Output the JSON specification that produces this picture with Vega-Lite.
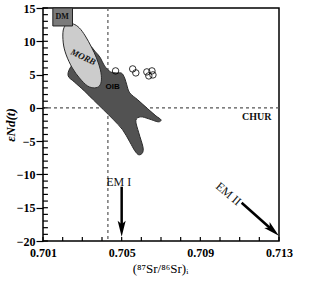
{
  "$schema": "https://vega.github.io/schema/vega-lite/v6.json",
  "width": 236,
  "height": 233,
  "autosize": {"type": "none"},
  "padding": {"left": 43, "top": 8, "right": 41, "bottom": 45},
  "background": "white",
  "config": {
    "view": {"stroke": "black", "strokeWidth": 1.5},
    "font": "Liberation Serif",
    "axis": {"labelOverlap": false, "labelFlush": false, "grid": false, "domain": false,
             "labelFont": "Liberation Serif", "labelFontSize": 12, "labelFontWeight": "bold", "labelColor": "black",
             "titleFont": "Liberation Serif", "titleColor": "black", "titleFontSize": 13},
    "axisX": {"ticks": false, "labelPadding": 6, "titleFontWeight": "normal",
              "titleX": 117, "titleY": 27, "titleBaseline": "middle", "titleAlign": "center"},
    "axisY": {"tickSize": 7, "tickColor": "black", "tickWidth": 1.2, "labelPadding": 1,
              "titleFontWeight": "bold", "titleFontStyle": "italic",
              "titleX": -33, "titleY": 116.5, "titleBaseline": "middle", "titleAlign": "center", "titleAngle": -90}
  },
  "datasets": {
    "oib": [
      {"i": 1, "x": 0.70331, "y": 9.3},
      {"i": 2, "x": 0.70367, "y": 8.4},
      {"i": 3, "x": 0.70392, "y": 7.5},
      {"i": 4, "x": 0.70413, "y": 6.3},
      {"i": 5, "x": 0.70444, "y": 5.4},
      {"i": 6, "x": 0.70474, "y": 5.25},
      {"i": 7, "x": 0.705, "y": 5.2},
      {"i": 8, "x": 0.70515, "y": 4.5},
      {"i": 9, "x": 0.70526, "y": 3.45},
      {"i": 10, "x": 0.70541, "y": 2.25},
      {"i": 11, "x": 0.70582, "y": 1.2},
      {"i": 12, "x": 0.70633, "y": -0.15},
      {"i": 13, "x": 0.70674, "y": -1.2},
      {"i": 14, "x": 0.707, "y": -1.8},
      {"i": 15, "x": 0.70685, "y": -2.1},
      {"i": 16, "x": 0.70638, "y": -1.65},
      {"i": 17, "x": 0.70597, "y": -1.35},
      {"i": 18, "x": 0.70572, "y": -1.9},
      {"i": 19, "x": 0.70587, "y": -3.75},
      {"i": 20, "x": 0.70608, "y": -5.85},
      {"i": 21, "x": 0.70606, "y": -6.75},
      {"i": 22, "x": 0.70587, "y": -7.05},
      {"i": 23, "x": 0.70567, "y": -6.45},
      {"i": 24, "x": 0.70541, "y": -5.1},
      {"i": 25, "x": 0.70505, "y": -3.3},
      {"i": 26, "x": 0.70459, "y": -1.8},
      {"i": 27, "x": 0.70408, "y": -0.3},
      {"i": 28, "x": 0.70356, "y": 1.2},
      {"i": 29, "x": 0.7031, "y": 2.55},
      {"i": 30, "x": 0.70259, "y": 3.9},
      {"i": 31, "x": 0.70228, "y": 4.8},
      {"i": 32, "x": 0.70238, "y": 6.0},
      {"i": 33, "x": 0.70279, "y": 7.5}
    ],
    "morb": [
      {"i": 1, "x": 0.70203, "y": 11.7},
      {"i": 2, "x": 0.70223, "y": 12.6},
      {"i": 3, "x": 0.70254, "y": 12.6},
      {"i": 4, "x": 0.70285, "y": 12.0},
      {"i": 5, "x": 0.70315, "y": 10.8},
      {"i": 6, "x": 0.70346, "y": 9.15},
      {"i": 7, "x": 0.70372, "y": 7.5},
      {"i": 8, "x": 0.70392, "y": 5.7},
      {"i": 9, "x": 0.70397, "y": 4.2},
      {"i": 10, "x": 0.70387, "y": 3.3},
      {"i": 11, "x": 0.70362, "y": 3.0},
      {"i": 12, "x": 0.70326, "y": 3.3},
      {"i": 13, "x": 0.70285, "y": 4.5},
      {"i": 14, "x": 0.70249, "y": 6.0},
      {"i": 15, "x": 0.70218, "y": 7.95},
      {"i": 16, "x": 0.70203, "y": 9.75}
    ],
    "samples": [
      {"x": 0.70469, "y": 5.55},
      {"x": 0.70556, "y": 5.85},
      {"x": 0.70572, "y": 5.25},
      {"x": 0.70628, "y": 5.4},
      {"x": 0.70654, "y": 5.55},
      {"x": 0.70638, "y": 4.8},
      {"x": 0.70659, "y": 4.95}
    ],
    "yticks": [
      {"y": -20}, {"y": -19}, {"y": -18}, {"y": -17}, {"y": -16}, {"y": -15}, {"y": -14}, {"y": -13}, {"y": -12}, {"y": -11},
      {"y": -10}, {"y": -9}, {"y": -8}, {"y": -7}, {"y": -6}, {"y": -5}, {"y": -4}, {"y": -3}, {"y": -2}, {"y": -1},
      {"y": 0}, {"y": 1}, {"y": 2}, {"y": 3}, {"y": 4}, {"y": 5}, {"y": 6}, {"y": 7}, {"y": 8}, {"y": 9},
      {"y": 10}, {"y": 11}, {"y": 12}, {"y": 13}, {"y": 14}, {"y": 15}
    ],
    "xticks": [
      {"x": 0.701}, {"x": 0.702}, {"x": 0.703}, {"x": 0.704}, {"x": 0.705}, {"x": 0.706}, {"x": 0.707},
      {"x": 0.708}, {"x": 0.709}, {"x": 0.71}, {"x": 0.711}, {"x": 0.712}, {"x": 0.713}
    ]
  },
  "layer": [
    {
      "data": {"values": [{"x": 0.7043}]},
      "mark": {"type": "rule", "strokeDash": [3, 3], "color": "#555", "strokeWidth": 1.2},
      "encoding": {
        "x": {"field": "x", "type": "quantitative",
              "scale": {"domain": [0.701, 0.713], "nice": false, "zero": false},
              "axis": {"title": "(⁸⁷Sr/⁸⁶Sr)ᵢ", "values": [0.701, 0.705, 0.709, 0.713], "format": ".3f"}}
      }
    },
    {
      "data": {"values": [{"y": 0}]},
      "mark": {"type": "rule", "strokeDash": [3, 3], "color": "#555", "strokeWidth": 1.2},
      "encoding": {
        "y": {"field": "y", "type": "quantitative",
              "scale": {"domain": [-20, 15], "nice": false, "zero": false},
              "axis": {"title": "εNd(t)", "values": [-20, -15, -10, -5, 0, 5, 10, 15], "format": "d"}}
      }
    },
    {
      "data": {"name": "yticks"},
      "mark": {"type": "rule", "color": "black", "strokeWidth": 1.2},
      "encoding": {
        "y": {"field": "y", "type": "quantitative", "axis": {"title": "εNd(t)", "values": [-20, -15, -10, -5, 0, 5, 10, 15], "format": "d"}},
        "x": {"datum": 0.701, "axis": {"title": "(⁸⁷Sr/⁸⁶Sr)ᵢ", "values": [0.701, 0.705, 0.709, 0.713], "format": ".3f"}},
        "x2": {"datum": 0.70125}
      }
    },
    {
      "data": {"name": "xticks"},
      "mark": {"type": "rule", "color": "black", "strokeWidth": 1.2},
      "encoding": {
        "x": {"field": "x", "type": "quantitative", "axis": {"title": "(⁸⁷Sr/⁸⁶Sr)ᵢ", "values": [0.701, 0.705, 0.709, 0.713], "format": ".3f"}},
        "y": {"datum": -20, "axis": {"title": "εNd(t)", "values": [-20, -15, -10, -5, 0, 5, 10, 15], "format": "d"}},
        "y2": {"datum": -19.4}
      }
    },
    {
      "data": {"name": "oib"},
      "mark": {"type": "line", "interpolate": "cardinal-closed", "fill": "#525252", "stroke": "#2a2a2a", "strokeWidth": 1},
      "encoding": {
        "x": {"field": "x", "type": "quantitative", "axis": {"title": "(⁸⁷Sr/⁸⁶Sr)ᵢ", "values": [0.701, 0.705, 0.709, 0.713], "format": ".3f"}},
        "y": {"field": "y", "type": "quantitative", "axis": {"title": "εNd(t)", "values": [-20, -15, -10, -5, 0, 5, 10, 15], "format": "d"}},
        "order": {"field": "i", "type": "quantitative"}
      }
    },
    {
      "data": {"name": "morb"},
      "mark": {"type": "line", "interpolate": "cardinal-closed", "fill": "#cccccc", "stroke": "#2a2a2a", "strokeWidth": 1},
      "encoding": {
        "x": {"field": "x", "type": "quantitative", "axis": {"title": "(⁸⁷Sr/⁸⁶Sr)ᵢ", "values": [0.701, 0.705, 0.709, 0.713], "format": ".3f"}},
        "y": {"field": "y", "type": "quantitative", "axis": {"title": "εNd(t)", "values": [-20, -15, -10, -5, 0, 5, 10, 15], "format": "d"}},
        "order": {"field": "i", "type": "quantitative"}
      }
    },
    {
      "data": {"values": [{"x": 0.7015, "x2": 0.7025, "y": 12.3, "y2": 15}]},
      "mark": {"type": "rect", "fill": "#7a7a7a", "stroke": "#222", "strokeWidth": 1},
      "encoding": {
        "x": {"field": "x", "type": "quantitative", "axis": {"title": "(⁸⁷Sr/⁸⁶Sr)ᵢ", "values": [0.701, 0.705, 0.709, 0.713], "format": ".3f"}},
        "x2": {"field": "x2"},
        "y": {"field": "y", "type": "quantitative", "axis": {"title": "εNd(t)", "values": [-20, -15, -10, -5, 0, 5, 10, 15], "format": "d"}},
        "y2": {"field": "y2"}
      }
    },
    {
      "data": {"name": "samples"},
      "mark": {"type": "point", "shape": "circle", "filled": false, "stroke": "black", "strokeWidth": 0.8, "size": 42, "opacity": 1},
      "encoding": {
        "x": {"field": "x", "type": "quantitative", "axis": {"title": "(⁸⁷Sr/⁸⁶Sr)ᵢ", "values": [0.701, 0.705, 0.709, 0.713], "format": ".3f"}},
        "y": {"field": "y", "type": "quantitative", "axis": {"title": "εNd(t)", "values": [-20, -15, -10, -5, 0, 5, 10, 15], "format": "d"}}
      }
    },
    {
      "data": {"values": [{"x": 0.705, "y": -11.85, "x2": 0.705, "y2": -17.6}, {"x": 0.7111, "y": -14.25, "x2": 0.7126, "y2": -18.2}]},
      "mark": {"type": "rule", "color": "black", "strokeWidth": 2.5},
      "encoding": {
        "x": {"field": "x", "type": "quantitative", "axis": {"title": "(⁸⁷Sr/⁸⁶Sr)ᵢ", "values": [0.701, 0.705, 0.709, 0.713], "format": ".3f"}},
        "x2": {"field": "x2"},
        "y": {"field": "y", "type": "quantitative", "axis": {"title": "εNd(t)", "values": [-20, -15, -10, -5, 0, 5, 10, 15], "format": "d"}},
        "y2": {"field": "y2"}
      }
    },
    {
      "data": {"values": [{"x": 0.705, "y": -18.15, "a": 0}, {"x": 0.71269, "y": -18.4, "a": 312}]},
      "mark": {"type": "point", "shape": "M0,1L-0.5,-1L0,-0.55L0.5,-1Z", "filled": true, "color": "black", "size": 256, "opacity": 1},
      "encoding": {
        "x": {"field": "x", "type": "quantitative", "axis": {"title": "(⁸⁷Sr/⁸⁶Sr)ᵢ", "values": [0.701, 0.705, 0.709, 0.713], "format": ".3f"}},
        "y": {"field": "y", "type": "quantitative", "axis": {"title": "εNd(t)", "values": [-20, -15, -10, -5, 0, 5, 10, 15], "format": "d"}},
        "angle": {"field": "a", "type": "quantitative", "scale": null}
      }
    },
    {
      "data": {"values": [{"x": 0.70197, "y": 13.65, "t": "DM"}]},
      "mark": {"type": "text", "font": "Liberation Serif", "fontWeight": "bold", "fontSize": 8, "color": "#111"},
      "encoding": {
        "x": {"field": "x", "type": "quantitative", "axis": {"title": "(⁸⁷Sr/⁸⁶Sr)ᵢ", "values": [0.701, 0.705, 0.709, 0.713], "format": ".3f"}},
        "y": {"field": "y", "type": "quantitative", "axis": {"title": "εNd(t)", "values": [-20, -15, -10, -5, 0, 5, 10, 15], "format": "d"}},
        "text": {"field": "t"}
      }
    },
    {
      "data": {"values": [{"x": 0.70305, "y": 7.65, "t": "MORB"}]},
      "mark": {"type": "text", "font": "Liberation Serif", "fontWeight": "bold", "fontStyle": "italic", "fontSize": 9, "color": "#111", "angle": 25},
      "encoding": {
        "x": {"field": "x", "type": "quantitative", "axis": {"title": "(⁸⁷Sr/⁸⁶Sr)ᵢ", "values": [0.701, 0.705, 0.709, 0.713], "format": ".3f"}},
        "y": {"field": "y", "type": "quantitative", "axis": {"title": "εNd(t)", "values": [-20, -15, -10, -5, 0, 5, 10, 15], "format": "d"}},
        "text": {"field": "t"}
      }
    },
    {
      "data": {"values": [{"x": 0.70454, "y": 3.15, "t": "OIB"}]},
      "mark": {"type": "text", "font": "Liberation Sans", "fontWeight": "bold", "fontSize": 8, "color": "#000"},
      "encoding": {
        "x": {"field": "x", "type": "quantitative", "axis": {"title": "(⁸⁷Sr/⁸⁶Sr)ᵢ", "values": [0.701, 0.705, 0.709, 0.713], "format": ".3f"}},
        "y": {"field": "y", "type": "quantitative", "axis": {"title": "εNd(t)", "values": [-20, -15, -10, -5, 0, 5, 10, 15], "format": "d"}},
        "text": {"field": "t"}
      }
    },
    {
      "data": {"values": [{"x": 0.71187, "y": -1.35, "t": "CHUR"}]},
      "mark": {"type": "text", "font": "Liberation Serif", "fontWeight": "bold", "fontSize": 10, "color": "#111"},
      "encoding": {
        "x": {"field": "x", "type": "quantitative", "axis": {"title": "(⁸⁷Sr/⁸⁶Sr)ᵢ", "values": [0.701, 0.705, 0.709, 0.713], "format": ".3f"}},
        "y": {"field": "y", "type": "quantitative", "axis": {"title": "εNd(t)", "values": [-20, -15, -10, -5, 0, 5, 10, 15], "format": "d"}},
        "text": {"field": "t"}
      }
    },
    {
      "data": {"values": [{"x": 0.70485, "y": -11.1, "t": "EM I"}]},
      "mark": {"type": "text", "font": "Liberation Serif", "fontSize": 12, "color": "#111"},
      "encoding": {
        "x": {"field": "x", "type": "quantitative", "axis": {"title": "(⁸⁷Sr/⁸⁶Sr)ᵢ", "values": [0.701, 0.705, 0.709, 0.713], "format": ".3f"}},
        "y": {"field": "y", "type": "quantitative", "axis": {"title": "εNd(t)", "values": [-20, -15, -10, -5, 0, 5, 10, 15], "format": "d"}},
        "text": {"field": "t"}
      }
    },
    {
      "data": {"values": [{"x": 0.71044, "y": -12.9, "t": "EM II"}]},
      "mark": {"type": "text", "font": "Liberation Serif", "fontSize": 12, "color": "#111", "angle": 40},
      "encoding": {
        "x": {"field": "x", "type": "quantitative", "axis": {"title": "(⁸⁷Sr/⁸⁶Sr)ᵢ", "values": [0.701, 0.705, 0.709, 0.713], "format": ".3f"}},
        "y": {"field": "y", "type": "quantitative", "axis": {"title": "εNd(t)", "values": [-20, -15, -10, -5, 0, 5, 10, 15], "format": "d"}},
        "text": {"field": "t"}
      }
    }
  ]
}
